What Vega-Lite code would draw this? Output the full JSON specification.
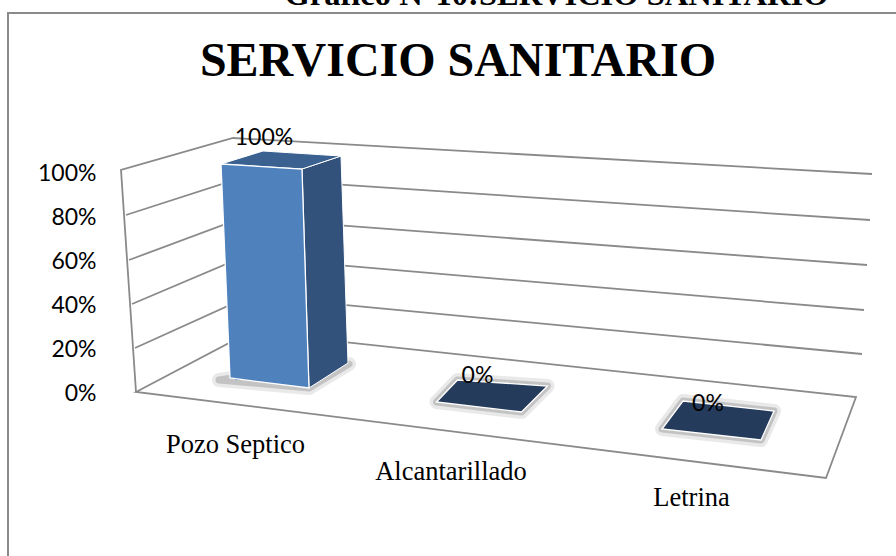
{
"$schema":"https://vega.github.io/schema/vega-lite/v6.json",
"width":896,"height":556,
"autosize":"none",
"padding":{"left":8,"top":13,"right":-8,"bottom":-13},
"background":"#ffffff",
"view":{"stroke":"#8a8a8a","strokeWidth":2,"fill":null},
"title":{"text":"SERVICIO SANITARIO","font":"Liberation Serif","fontSize":48,"fontWeight":"bold","color":"#000000","anchor":"middle","frame":"group","offset":0,"dx":2,"dy":107},
"datasets":{
"rows":[
{"categoria":"Pozo Septico","valor":1,"etiqueta":"100%"},
{"categoria":"Alcantarillado","valor":0,"etiqueta":"0%"},
{"categoria":"Letrina","valor":0,"etiqueta":"0%"}],
"ticks":[{"tick":0},{"tick":0.2},{"tick":0.4},{"tick":0.6},{"tick":0.8},{"tick":1}],
"encabezado":[{"categoria":"Alcantarillado","valor":1,"texto":"Gráfico N°10:SERVICIO SANITARIO"}]
},
"layer":[
{"data":{"name":"ticks"},
 "mark":{"type":"point","filled":false,"stroke":"#8a8a8a","strokeWidth":1.8,"size":4,"opacity":1},
 "encoding":{
  "x":{"datum":"Pozo Septico","type":"nominal","axis":null,"scale":{"type":"band","domain":["Pozo Septico","Alcantarillado","Letrina"],"range":[143.75,823.25],"padding":0}},
  "y":{"field":"tick","type":"quantitative","scale":{"domain":[0,1],"range":[379,159],"nice":false},
       "axis":{"title":null,"values":[0,0.2,0.4,0.6,0.8,1],"format":".0%","grid":false,"domain":false,"ticks":false,"labelPadding":0,"labelOffset":1,"offset":-88,"labelFont":"Lato","labelFontSize":23,"labelColor":"#000000"}},
  "shape":{"field":"tick","type":"ordinal","legend":null,"scale":{"domain":[0,0.2,0.4,0.6,0.8,1],"range":[
   "M-129,0L-15,-60L591,5L561,86Z",
   "M-130,0L-15,-52L597,6",
   "M-133,0L-22,-47L599,6",
   "M-136,0L-23,-42L602,5",
   "M-139,-1L-24,-38L605,4",
   "M-129,220L-144,-2L-32,-34L607,2"]}}
 }},
{"data":{"name":"rows"},
 "mark":{"type":"point","filled":true,"fill":"#8c8c8c","stroke":"#8c8c8c","strokeWidth":14,"strokeJoin":"round","size":4,"opacity":0.18},
 "encoding":{
  "x":{"field":"categoria","type":"nominal","axis":null},
  "y":{"field":"valor","type":"quantitative","title":null},
  "shape":{"field":"categoria","type":"nominal","legend":null,"scale":{"domain":["Pozo Septico","Alcantarillado","Letrina"],"range":[
   "M-46,208L44,216L84,192L60,192Z",
   "M-55,10L-34,-12L56,-6L30,20Z",
   "M-56,37L-35,9L56,19L43,48Z"]}}
 }},
{"data":{"name":"rows"},
 "mark":{"type":"point","filled":true,"fill":"#8c8c8c","stroke":"#8c8c8c","strokeWidth":7,"strokeJoin":"round","size":4,"opacity":0.4},
 "encoding":{
  "x":{"field":"categoria","type":"nominal","axis":null},
  "y":{"field":"valor","type":"quantitative","title":null},
  "shape":{"field":"categoria","type":"nominal","legend":null,"scale":{"domain":["Pozo Septico","Alcantarillado","Letrina"],"range":[
   "M-46,208L44,216L84,192L60,192Z",
   "M-55,10L-34,-12L56,-6L30,20Z",
   "M-56,37L-35,9L56,19L43,48Z"]}}
 }},
{"data":{"name":"rows"},
 "mark":{"type":"bar","width":60,"color":"#4f81bd","yOffset":-12},
 "encoding":{
  "x":{"field":"categoria","type":"nominal","axis":null},
  "y":{"field":"valor","type":"quantitative","title":null}
 }},
{"data":{"name":"rows"},
 "transform":[{"filter":"datum.valor > 0"}],
 "mark":{"type":"point","filled":true,"fill":"#32527b","stroke":"#ffffff","strokeWidth":1,"size":4,"opacity":1,"shape":"M37,-3L76,-16L83,191L44,216Z"},
 "encoding":{
  "x":{"field":"categoria","type":"nominal","axis":null},
  "y":{"field":"valor","type":"quantitative","title":null}
 }},
{"data":{"name":"rows"},
 "transform":[{"filter":"datum.valor > 0"}],
 "mark":{"type":"point","filled":true,"fill":"#3a6190","stroke":"#ffffff","strokeWidth":1,"size":4,"opacity":1,"shape":"M-44,-8L-2,-21L76,-16L37,-3Z"},
 "encoding":{
  "x":{"field":"categoria","type":"nominal","axis":null},
  "y":{"field":"valor","type":"quantitative","title":null}
 }},
{"data":{"name":"rows"},
 "mark":{"type":"point","filled":true,"stroke":"#ffffff","strokeWidth":1.3,"size":4,"opacity":1},
 "encoding":{
  "x":{"field":"categoria","type":"nominal","axis":null},
  "y":{"field":"valor","type":"quantitative","title":null},
  "color":{"field":"categoria","type":"nominal","legend":null,"scale":{"domain":["Pozo Septico","Alcantarillado","Letrina"],"range":["#4f81bd","#253b5c","#253b5c"]}},
  "shape":{"field":"categoria","type":"nominal","legend":null,"scale":{"domain":["Pozo Septico","Alcantarillado","Letrina"],"range":[
   "M-44,-8L37,-3L44,216L-35,206Z",
   "M-55,10L-34,-12L56,-6L30,20Z",
   "M-56,37L-35,9L56,19L43,48Z"]}}
 }},
{"data":{"name":"rows"},
 "mark":{"type":"text","font":"Lato","fontSize":23,"color":"#000000","align":"center",
   "dx":{"expr":"datum.categoria === 'Pozo Septico' ? -1 : datum.categoria === 'Alcantarillado' ? -14 : -10"},
   "dy":{"expr":"datum.categoria === 'Pozo Septico' ? -27 : datum.categoria === 'Alcantarillado' ? -9 : 19"},
   "baseline":"alphabetic"},
 "encoding":{
  "x":{"field":"categoria","type":"nominal","axis":null},
  "y":{"field":"valor","type":"quantitative","title":null},
  "text":{"field":"etiqueta","type":"nominal"}
 }},
{"data":{"name":"rows"},
 "mark":{"type":"text","font":"Liberation Serif","fontSize":26.5,"color":"#000000","align":"center","baseline":"alphabetic",
   "dx":{"expr":"datum.categoria === 'Pozo Septico' ? -29.5 : datum.categoria === 'Alcantarillado' ? -40.5 : -26.5"},
   "dy":{"expr":"datum.categoria === 'Pozo Septico' ? 61 : datum.categoria === 'Alcantarillado' ? 88 : 114"}},
 "encoding":{
  "x":{"field":"categoria","type":"nominal","axis":null},
  "y":{"datum":0,"type":"quantitative","title":null},
  "text":{"field":"categoria","type":"nominal"}
 }},
{"data":{"name":"encabezado"},
 "mark":{"type":"text","font":"Liberation Serif","fontSize":32.5,"fontWeight":"bold","color":"#000000","align":"center","baseline":"alphabetic","dx":65,"dy":-167},
 "encoding":{
  "x":{"field":"categoria","type":"nominal","axis":null},
  "y":{"field":"valor","type":"quantitative","title":null},
  "text":{"field":"texto","type":"nominal"}
 }}
],
"resolve":{"scale":{"shape":"independent","color":"independent"}}
}
